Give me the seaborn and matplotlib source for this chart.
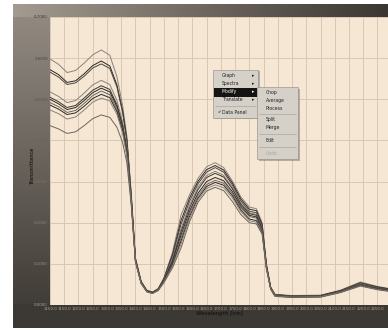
import numpy as np
import pandas as pd
import matplotlib
matplotlib.use("Agg")
import matplotlib.pyplot as plt
import seaborn as sns
from matplotlib.patches import Rectangle

# ---------------------------------------------------------------- data
W = [1100, 1130, 1160, 1190, 1220, 1250, 1280, 1310, 1335, 1355, 1370, 1385, 1400,
     1420, 1440, 1460, 1480, 1500, 1530, 1560, 1590, 1620, 1650, 1680, 1710, 1740,
     1770, 1800, 1825, 1845, 1860, 1875, 1890, 1950, 2050, 2120, 2190, 2250, 2300]

c1 = [0.598, 0.585, 0.565, 0.570, 0.588, 0.608, 0.620, 0.607, 0.555, 0.485, 0.410, 0.275, 0.115,
      0.058, 0.036, 0.031, 0.040, 0.066, 0.128, 0.218, 0.268, 0.308, 0.336, 0.346, 0.334, 0.302,
      0.263, 0.238, 0.234, 0.200, 0.100, 0.044, 0.026, 0.023, 0.024, 0.036, 0.056, 0.045, 0.039]
c2 = [0.572, 0.560, 0.541, 0.545, 0.562, 0.582, 0.593, 0.581, 0.535, 0.472, 0.402, 0.270, 0.113,
      0.057, 0.035, 0.031, 0.039, 0.064, 0.122, 0.205, 0.260, 0.301, 0.329, 0.339, 0.328, 0.297,
      0.258, 0.233, 0.229, 0.196, 0.098, 0.043, 0.025, 0.022, 0.023, 0.035, 0.054, 0.044, 0.038]
c3 = [0.566, 0.554, 0.536, 0.540, 0.556, 0.576, 0.586, 0.575, 0.530, 0.468, 0.398, 0.268, 0.112,
      0.056, 0.035, 0.031, 0.039, 0.063, 0.118, 0.196, 0.252, 0.295, 0.323, 0.334, 0.323, 0.292,
      0.253, 0.228, 0.224, 0.192, 0.096, 0.042, 0.025, 0.022, 0.023, 0.034, 0.053, 0.043, 0.037]
c4 = [0.518, 0.507, 0.492, 0.497, 0.515, 0.535, 0.546, 0.536, 0.497, 0.445, 0.382, 0.262, 0.110,
      0.055, 0.034, 0.030, 0.038, 0.061, 0.112, 0.185, 0.243, 0.287, 0.315, 0.325, 0.315, 0.286,
      0.248, 0.224, 0.220, 0.189, 0.095, 0.041, 0.024, 0.021, 0.022, 0.033, 0.051, 0.041, 0.036]
c5 = [0.505, 0.494, 0.480, 0.485, 0.503, 0.522, 0.533, 0.524, 0.487, 0.437, 0.376, 0.260, 0.109,
      0.055, 0.034, 0.030, 0.038, 0.060, 0.108, 0.178, 0.236, 0.281, 0.310, 0.320, 0.311, 0.283,
      0.245, 0.222, 0.218, 0.187, 0.094, 0.041, 0.024, 0.021, 0.022, 0.033, 0.050, 0.041, 0.036]
c6 = [0.500, 0.489, 0.475, 0.480, 0.497, 0.516, 0.527, 0.518, 0.482, 0.433, 0.373, 0.258, 0.108,
      0.054, 0.033, 0.029, 0.037, 0.059, 0.104, 0.170, 0.228, 0.272, 0.300, 0.310, 0.302, 0.276,
      0.240, 0.218, 0.214, 0.184, 0.093, 0.040, 0.023, 0.020, 0.021, 0.032, 0.049, 0.040, 0.035]
c7 = [0.492, 0.482, 0.468, 0.473, 0.490, 0.509, 0.520, 0.511, 0.476, 0.428, 0.370, 0.256, 0.108,
      0.054, 0.033, 0.029, 0.037, 0.058, 0.100, 0.162, 0.222, 0.266, 0.293, 0.303, 0.296, 0.271,
      0.236, 0.215, 0.211, 0.182, 0.092, 0.040, 0.023, 0.020, 0.021, 0.032, 0.049, 0.040, 0.035]
c8 = [0.486, 0.476, 0.463, 0.467, 0.483, 0.502, 0.512, 0.504, 0.470, 0.424, 0.366, 0.254, 0.107,
      0.053, 0.033, 0.029, 0.036, 0.057, 0.097, 0.155, 0.215, 0.260, 0.288, 0.298, 0.291, 0.266,
      0.231, 0.209, 0.205, 0.177, 0.090, 0.039, 0.022, 0.019, 0.020, 0.031, 0.048, 0.039, 0.034]
c9 = [0.474, 0.465, 0.452, 0.457, 0.474, 0.493, 0.503, 0.496, 0.463, 0.418, 0.362, 0.252, 0.106,
      0.053, 0.032, 0.028, 0.036, 0.056, 0.094, 0.148, 0.210, 0.256, 0.283, 0.292, 0.285, 0.261,
      0.227, 0.205, 0.201, 0.174, 0.089, 0.039, 0.022, 0.019, 0.020, 0.031, 0.047, 0.038, 0.033]
c10 = [0.436, 0.428, 0.417, 0.421, 0.436, 0.453, 0.462, 0.456, 0.432, 0.395, 0.345, 0.245, 0.104,
       0.052, 0.032, 0.028, 0.035, 0.054, 0.090, 0.138, 0.202, 0.250, 0.277, 0.286, 0.278, 0.252,
       0.220, 0.200, 0.197, 0.172, 0.088, 0.038, 0.021, 0.018, 0.019, 0.030, 0.046, 0.037, 0.032]

spectra = [c1, c2, c3, c4, c5, c6, c7, c8, c9, c10]
line_colors = ['#8c8279', '#2b2825', '#4a4540', '#8c8279', '#3a3632',
               '#2b2825', '#6d655d', '#2b2825', '#8c8279', '#6d655d']

x_ticks = list(range(1100, 2300, 50))
y_ticks = [0.0, 0.1, 0.2, 0.3, 0.4, 0.5, 0.6, 0.7]

menu_items = ["Graph", "Spectra", "Modify", "Translate"]
submenu_items = ["Chop", "Average", "Process", "Split", "Merge", "Edit", "Undo"]

rows = []
for i, s in enumerate(spectra):
    for w, t in zip(W, s):
        rows.append({"wl": w, "T": t, "sample": "s%d" % i})
df = pd.DataFrame(rows)

# ---------------------------------------------------------------- figure + window frame
sns.set_theme(style="white")
plt.rcParams['font.family'] = ['DejaVu Sans']

FW, FH = 388, 330
fig = plt.figure(figsize=(FW / 100, FH / 100), dpi=100, facecolor="white")


def fx(px):
    return px / FW


def fy(py):
    return 1 - py / FH


# gradient frame (window chrome)
fh, fw = 324, 375
top = np.array([0x95, 0x8d, 0x84]) / 255
bot = np.array([0x3a, 0x36, 0x31]) / 255
t = np.linspace(0, 1, fh)[:, None, None]
img = np.ones((fh, fw, 3)) * (top * (1 - t) + bot * t)
hl = np.array([0xa3, 0x9b, 0x91]) / 255
hr = np.array([0x3a, 0x36, 0x31]) / 255
u = np.linspace(0, 1, fw)[None, :, None]
img[:13] = hl * (1 - u) + hr * u
img[300:] = np.array([0x3c, 0x38, 0x33]) / 255
fax = fig.add_axes([fx(13), fy(328), fx(fw), 324 / FH], zorder=0)
fax.imshow(img, aspect="auto", interpolation="bilinear")
fax.axis("off")

# ---------------------------------------------------------------- plot
ax = fig.add_axes([fx(50), fy(305), fx(338), 288 / FH], zorder=1)
sns.lineplot(data=df, x="wl", y="T", hue="sample", palette=line_colors,
             linewidth=0.7, legend=False, ax=ax)

ax.set_xlim(1100, 2287)
ax.set_ylim(0, 0.7)
ax.set_facecolor('#f6e7d4')
ax.set_xticks(x_ticks)
ax.set_yticks(y_ticks)
ax.set_xticklabels(["%.1f" % v for v in x_ticks], fontsize=2.8, color='#aaa49c')
ax.set_yticklabels([("%.4f" % v).replace('.', ',') for v in y_ticks], fontsize=2.8)
ax.tick_params(length=0, pad=1.5)
ax.grid(True, color='#d9c6b0', linewidth=0.7)
ax.set_axisbelow(True)
for sp in ax.spines.values():
    sp.set_visible(False)
ax.set_xlabel("")
ax.set_ylabel("")

# y tick label shade follows the chrome gradient
ylabs = ax.get_yticklabels()
for k, lab in enumerate(ylabs):
    g = k / (len(ylabs) - 1)
    c = np.array([0xa8, 0xa2, 0x9a]) / 255 * (1 - g) + np.array([0x3a, 0x35, 0x30]) / 255 * g
    lab.set_color(c)

fig.text(fx(32), fy(165), "Transmittance", rotation=90, fontsize=3.3, fontweight='bold',
         style='italic', color='#2a2622', ha='center', va='center')
fig.text(fx(220), fy(313), "Wavelength [nm]", fontsize=3.5, fontweight='bold',
         style='italic', color='#1e1b18', ha='center', va='center')

# ---------------------------------------------------------------- context menu


def px_rect(x0, y0, x1, y1, **kw):
    r = Rectangle((fx(x0), fy(y1)), fx(x1 - x0), (y1 - y0) / FH,
                  transform=fig.transFigure, zorder=5, **kw)
    fig.add_artist(r)


def px_line(x0, x1, y, color='#a09a92'):
    fig.add_artist(plt.Line2D([fx(x0), fx(x1)], [fy(y), fy(y)], transform=fig.transFigure,
                              color=color, lw=0.4, zorder=6))


def px_text(x, y, s, **kw):
    kw.setdefault('fontsize', 3.3)
    kw.setdefault('color', '#222222')
    fig.text(fx(x), fy(y), s, va='center', ha='left', zorder=7, **kw)


menu_bg = '#d5d1c9'
px_rect(214.5, 71.5, 259.5, 119.5, fc='#6e665e', ec='none', alpha=0.45)
px_rect(213, 70, 258, 118, fc=menu_bg, ec='#8e8880', lw=0.4)
px_rect(214, 88, 257, 96.5, fc='#161412', ec='none')
for k, item in enumerate(menu_items):
    yy = 76 + 8 * k
    col = 'white' if item == "Modify" else '#222222'
    px_text(222, yy, item, color=col)
    px_text(252, yy, u"\u25b8", color=col, fontsize=3.3)
px_line(215, 256, 105.5)
px_text(218, 112, u"\u2714", fontsize=3.0)
px_text(222.5, 112, "Data Panel")

px_rect(258.5, 88.5, 299.5, 160.5, fc='#6e665e', ec='none', alpha=0.45)
px_rect(257, 87, 298, 159, fc=menu_bg, ec='#8e8880', lw=0.4)
sub_y = [92.5, 100.5, 108.5, 119.5, 127.5, 140.5, 153.5]
for item, yy in zip(submenu_items, sub_y):
    col = '#a8a39b' if item == "Undo" else '#222222'
    px_text(266, yy, item, color=col)
px_line(259, 296, 113.5)
px_line(259, 296, 133.5)
px_line(259, 296, 147)

fig.savefig("out.png", dpi=100, facecolor=fig.get_facecolor())
